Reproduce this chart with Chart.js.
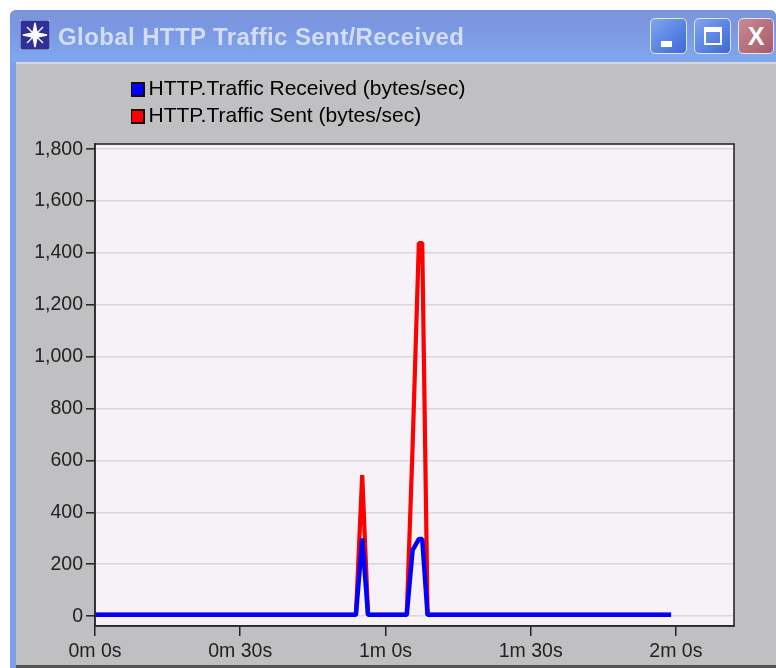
<!DOCTYPE html>
<html><head><meta charset="utf-8">
<style>
html,body{margin:0;padding:0;background:#fff;width:776px;height:668px;overflow:hidden}
#win{position:absolute;left:10px;top:10px;width:766px;height:658px;background:#7f9fe8;border-radius:6px 6px 0 0;overflow:hidden}
#bar{position:absolute;left:0;top:0;width:766px;height:52px;background:linear-gradient(#7b94dd,#7c98e4 40%,#80a8ee)}
#body{position:absolute;left:6px;top:52px;width:760px;height:603px;background:#c0bfc1;border-top:2px solid #d8d8d8;box-sizing:border-box}
#foot{position:absolute;left:6px;top:655px;width:760px;height:3px;background:#555}
#title{position:absolute;left:48px;top:13px;font:bold 24px "Liberation Sans",sans-serif;color:#d3def6;letter-spacing:.4px;white-space:nowrap;filter:blur(.6px)}
.btn{position:absolute;top:8px;height:36px;border-radius:5px;border:1px solid #dfe8fa;box-sizing:border-box;background:linear-gradient(135deg,#7fa5f0,#3e68d8)}
#cv{position:absolute;left:0;top:0;filter:blur(.5px)}
</style></head><body>
<div id="win">
 <div id="bar"></div>
 <svg style="position:absolute;left:10px;top:10px;filter:blur(.5px)" width="30" height="30" viewBox="0 0 30 30"><rect width="30" height="30" rx="2" fill="#2f2f9a" stroke="#c9d3f0"/><path d="M15 3L17 13 27 15 17 17 15 27 13 17 3 15 13 13Z M7 7L23 23 M23 7L7 23" fill="#fff" stroke="#fff" stroke-width="1.4"/></svg>
 <div id="title">Global HTTP Traffic Sent/Received</div>
 <div class="btn" style="left:640px;width:37px"><div style="position:absolute;left:10px;bottom:6px;width:11px;height:6px;background:#fff"></div></div>
 <div class="btn" style="left:684px;width:37px"><div style="position:absolute;left:9px;top:8px;width:18px;height:18px;border:2px solid #fff;border-top-width:5px;box-sizing:border-box"></div></div>
 <div class="btn" style="left:728px;width:36px;background:linear-gradient(135deg,#c88a92,#a85a68);color:#fff;font:bold 25px 'Liberation Sans',sans-serif;text-align:center;line-height:34px">X</div>
 <div id="body"></div><div id="foot"></div>
</div>
<canvas id="cv" width="776" height="668"></canvas>
<script src="https://cdn.jsdelivr.net/npm/chart.js@4"></script>
<script>
const seriesNames = ['HTTP.Traffic Received (bytes/sec)', 'HTTP.Traffic Sent (bytes/sec)'];
const times    = [0, 53.9, 55.2, 56.4, 64.4, 65.6, 66.9, 67.6, 68.7, 119];
const received = [5, 5, 300, 5, 5, 254, 297, 297, 5, 5];
const sent     = [5, 5, 544, 5, 5, 650, 1438, 1438, 5, 5];
const yTicks = [0, 200, 400, 600, 800, 1000, 1200, 1400, 1600, 1800];
const xTicks = [0, 30, 60, 90, 120];
const xTickLabels = ['0m 0s', '0m 30s', '1m 0s', '1m 30s', '2m 0s'];

const swatch = color => {
  const s = document.createElement('canvas');
  s.width = s.height = 15;
  const g = s.getContext('2d');
  g.fillStyle = '#111'; g.fillRect(0, 0, 15, 15);
  g.fillStyle = color; g.fillRect(2, 2, 11, 11);
  return s;
};
const plotFrame = {
  id: 'plotFrame',
  afterLayout(c) {
    const l = c.legend;
    l.left = 131; l.right = 520; l.top = 73; l.bottom = 220;
  },
  beforeDraw(c) {
    const a = c.chartArea, x = c.ctx;
    x.save();
    x.fillStyle = '#f6f2f7';
    x.fillRect(a.left, a.top, a.width, a.height);
    x.restore();
  },
  afterDraw(c) {
    const a = c.chartArea, x = c.ctx;
    x.save();
    x.strokeStyle = '#2a2a2a'; x.lineWidth = 1.6;
    x.strokeRect(a.left, a.top, a.width, a.height);
    x.restore();
  }
};
const toPoints = v => v.map((y, i) => ({ x: times[i], y }));
const font = { family: '"Liberation Sans", sans-serif', size: 19.5 };
const legendFont = { family: '"Liberation Sans", sans-serif', size: 21 };
new Chart(document.getElementById('cv'), {
  type: 'line',
  plugins: [plotFrame],
  data: { datasets: [
    { label: seriesNames[0], data: toPoints(received), borderColor: '#0000ff', backgroundColor: '#0000ff', borderWidth: 4.5 },
    { label: seriesNames[1], data: toPoints(sent), borderColor: '#ff0000', backgroundColor: '#ff0000', borderWidth: 4.2 }
  ]},
  options: {
    responsive: false, animation: false, parsing: false,
    layout: { padding: { left: 0, top: 144, right: 42, bottom: 0 } },
    elements: { point: { radius: 0 }, line: { tension: 0, borderJoinStyle: 'bevel', borderCapStyle: 'butt' } },
    plugins: {
      tooltip: { enabled: false },
      legend: {
        position: 'chartArea', align: 'start',
        labels: { font: legendFont, color: '#1c1c1c', usePointStyle: true, boxWidth: 1, boxHeight: 15, padding: 6,
          generateLabels: c => c.data.datasets.map((d, i) => ({ text: d.label, pointStyle: swatch(d.borderColor), datasetIndex: i })) }
      }
    },
    scales: {
      x: {
        type: 'linear', min: 0, max: 132,
        afterBuildTicks: s => { s.ticks = xTicks.map(value => ({ value })); },
        afterFit: s => { s.height = 42; },
        ticks: { font, color: '#222', padding: 4, maxRotation: 0, autoSkip: false,
          callback: v => xTickLabels[xTicks.indexOf(v)] },
        grid: { drawOnChartArea: false, tickLength: 10, color: '#222', lineWidth: 1.5 },
        border: { color: '#2a2a2a', width: 1.6 }
      },
      y: {
        min: -38, max: 1820,
        afterBuildTicks: s => { s.ticks = yTicks.map(value => ({ value })); },
        afterFit: s => { s.width = 95; },
        ticks: { font, color: '#222', padding: 3, autoSkip: false,
          callback: v => v.toLocaleString('en-US') },
        grid: { color: '#d9d5da', lineWidth: 1.6, tickLength: 9, tickColor: '#222', tickWidth: 1.5 },
        border: { color: '#2a2a2a', width: 1.6 }
      }
    }
  }
});
</script>
</body></html>
